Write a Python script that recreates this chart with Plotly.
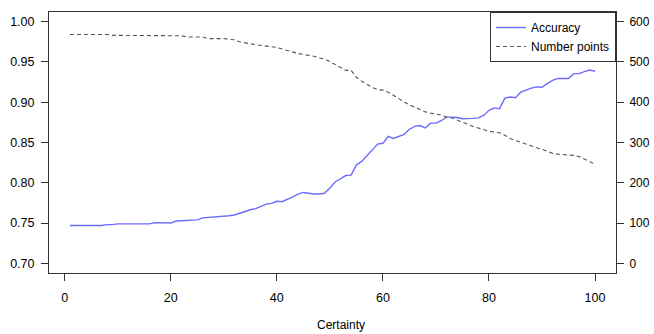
import plotly.graph_objects as go

certainty = list(range(1, 101))

accuracy = [
    0.747, 0.747, 0.747, 0.747, 0.747, 0.747, 0.747, 0.748, 0.748, 0.749,
    0.749, 0.749, 0.749, 0.749, 0.749, 0.749, 0.7505, 0.7505, 0.750, 0.750,
    0.7525, 0.753, 0.7535, 0.754, 0.754, 0.7565, 0.757, 0.7575, 0.758, 0.758,
    0.759, 0.760, 0.7625, 0.765, 0.7665, 0.768, 0.771, 0.7735, 0.7745, 0.777,
    0.7765, 0.779, 0.7825, 0.786, 0.788, 0.787, 0.786, 0.786, 0.787, 0.7935,
    0.801, 0.805, 0.809, 0.8095, 0.822, 0.8265, 0.834, 0.841, 0.848, 0.849,
    0.8575, 0.855, 0.858, 0.860, 0.8665, 0.870, 0.871, 0.868, 0.874, 0.874,
    0.877, 0.8815, 0.8815, 0.881, 0.8795, 0.8795, 0.880, 0.8805, 0.8835, 0.890,
    0.893, 0.892, 0.905, 0.9065, 0.9055, 0.9125, 0.915, 0.9175, 0.919, 0.9185,
    0.923, 0.927, 0.9295, 0.9295, 0.9295, 0.9355, 0.9355, 0.938, 0.940, 0.9385,
]

number_points = [
    568, 568, 568, 568, 568, 568, 568, 568, 566, 566,
    566, 566, 566, 566, 566, 566, 566, 565, 565, 565,
    565, 565, 562, 562, 562, 562, 558, 558, 558, 558,
    556, 555, 550, 547, 545, 543, 541, 540, 538, 536,
    532, 529, 525, 521, 519, 517, 514, 510, 507, 501,
    493, 485, 479, 479, 462, 452, 444, 437, 431, 430,
    425, 417, 410, 402, 393, 388, 382, 376, 373, 371,
    368, 363, 361, 356, 350, 344, 340, 336, 332, 328,
    326, 324, 318, 310, 305, 300, 295, 291, 287, 283,
    277, 273, 271, 270, 269, 268, 265, 259, 252, 246,
]

left_ticks = [0.70, 0.75, 0.80, 0.85, 0.90, 0.95, 1.00]
right_ticks = [0, 100, 200, 300, 400, 500, 600]
x_ticks = [0, 20, 40, 60, 80, 100]

FONT = "Liberation Sans, Arial, Helvetica, sans-serif"
AX = "#333333"

fig = go.Figure()
fig.add_trace(go.Scatter(
    x=certainty, y=accuracy, mode="lines", name="Accuracy",
    line=dict(color="#6b6bff", width=1.4),
))
fig.add_trace(go.Scatter(
    x=certainty, y=number_points, mode="lines", name="Number points",
    line=dict(color="#555555", width=1.1, dash="4px,3px"), yaxis="y2",
))

fig.update_layout(
    width=654, height=334,
    margin=dict(l=49, r=38, t=12, b=61, autoexpand=False),
    paper_bgcolor="white", plot_bgcolor="white",
    font=dict(family=FONT, size=12.5, color="black"),
    showlegend=True,
    legend=dict(
        x=1, y=1, xanchor="right", yanchor="top",
        bordercolor=AX, borderwidth=1, bgcolor="white",
        font=dict(family=FONT, size=12, color="black"),
        tracegroupgap=0, itemwidth=30,
    ),
    xaxis=dict(
        range=[-2.96, 103.96], tickvals=x_ticks, ticktext=[str(v) for v in x_ticks],
        ticks="outside", ticklen=7, tickcolor=AX, showline=True, linecolor=AX,
        linewidth=1, mirror=True, showgrid=False, zeroline=False,
        ticklabelstandoff=6, automargin=False,
    ),
    yaxis=dict(
        range=[0.688, 1.012], tickvals=left_ticks,
        ticktext=[f"{v:.2f}" for v in left_ticks],
        ticks="outside", ticklen=7, tickcolor=AX, showline=True, linecolor=AX,
        linewidth=1, mirror=True, showgrid=False, zeroline=False,
        ticklabelstandoff=4, automargin=False,
    ),
    yaxis2=dict(
        range=[-24, 624], tickvals=right_ticks, ticktext=[str(v) for v in right_ticks],
        overlaying="y", side="right", ticks="outside", ticklen=7, tickcolor=AX,
        showline=False, showgrid=False, zeroline=False,
        ticklabelstandoff=3, automargin=False,
        tickfont=dict(family=FONT, size=12, color="black"),
    ),
    annotations=[dict(
        text="Certainty", x=0.5, y=-0.2, xref="paper", yref="paper",
        yanchor="middle", showarrow=False, font=dict(family=FONT, size=12, color="black"),
        xshift=8,
    )],
)

fig.write_html("out.html")
